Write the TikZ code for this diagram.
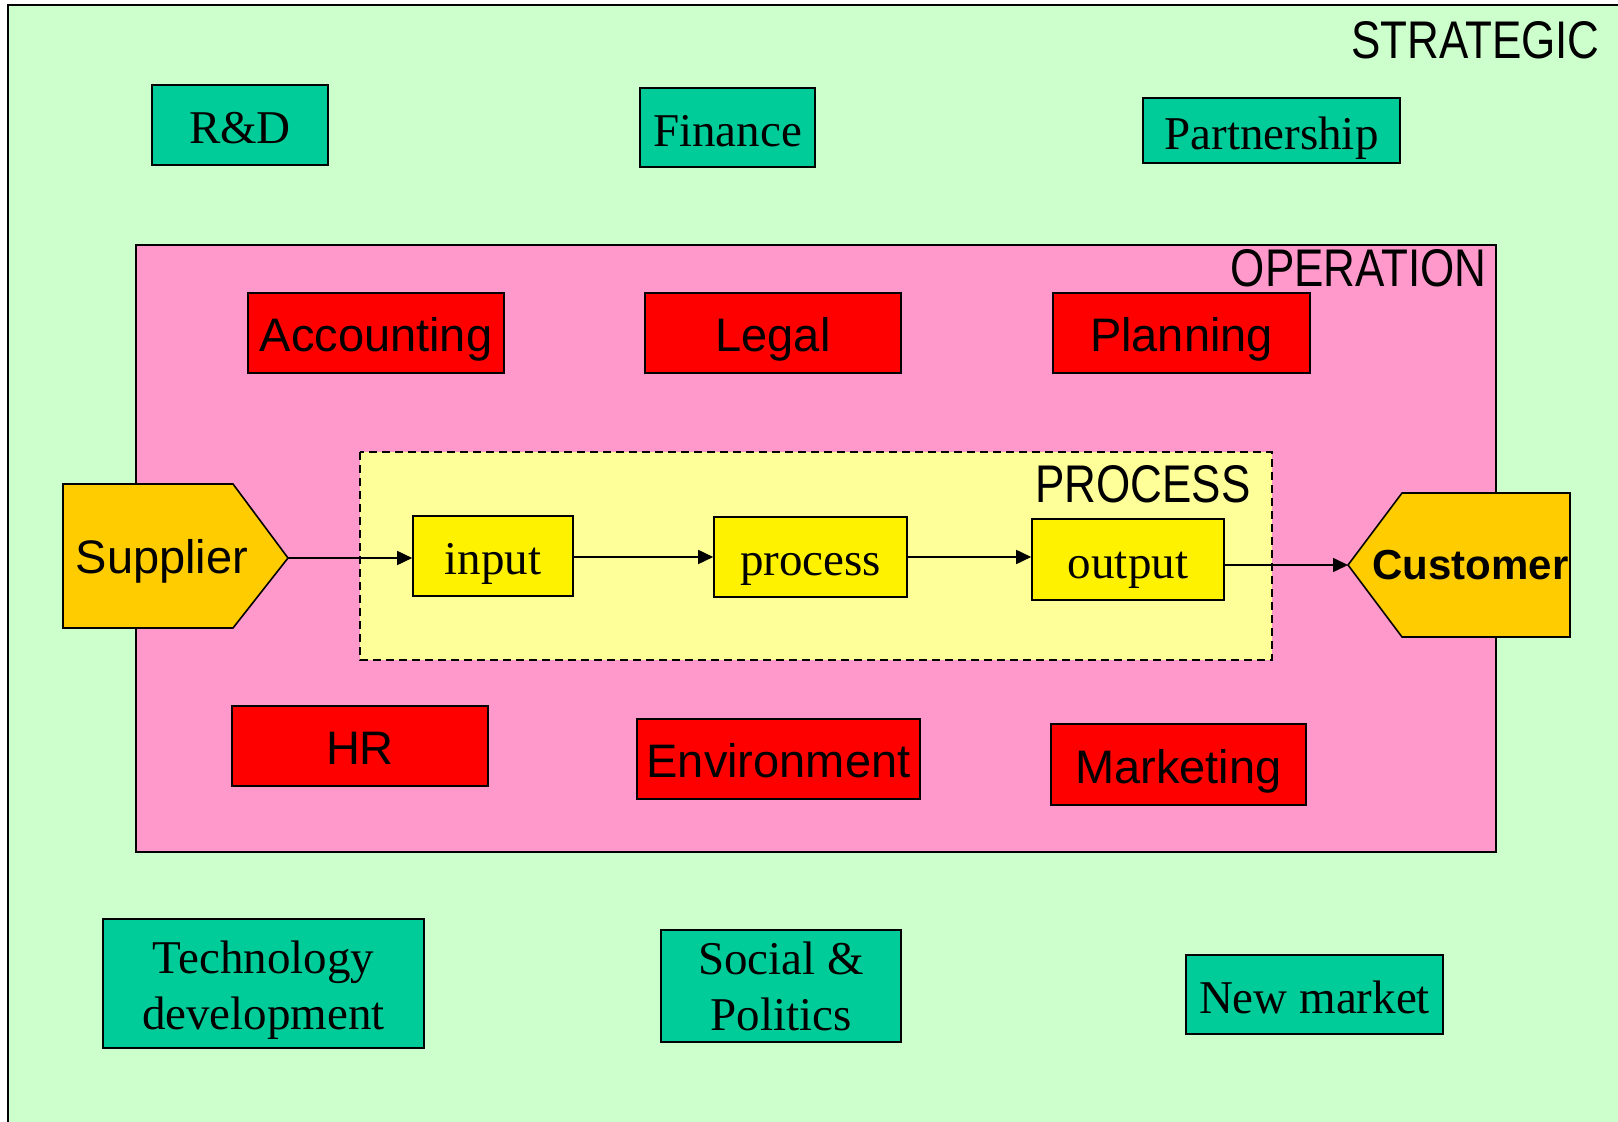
\documentclass[tikz,border=0pt]{standalone}
\usepackage{fontspec}
\setmainfont{Liberation Serif}
\newfontfamily\arialfont{Liberation Sans}
\newfontfamily\narrowfont{Liberation Sans}[FakeStretch=0.83]
\usepackage{tikz}
\usetikzlibrary{arrows.meta}
\definecolor{stratfill}{HTML}{CCFFCC}
\definecolor{opfill}{HTML}{FF99CC}
\definecolor{procfill}{HTML}{FFFF99}
\definecolor{stratbox}{HTML}{00CC99}
\definecolor{sidefill}{HTML}{FFCC00}
\tikzset{
    box/.style={draw, line width=0.8pt, inner sep=0pt, align=center},
    oneline/.style={text height=21.1pt, text depth=2.4pt},
    stratnode/.style={box, fill=stratbox, font=\fontsize{23.5}{28}\selectfont},
    opnode/.style={box, oneline, fill=red, font=\arialfont\fontsize{23.5}{28}\selectfont},
    procnode/.style={box, oneline, fill=yellow, font=\fontsize{23.5}{28}\selectfont},
    zonelabel/.style={anchor=base east, inner sep=0pt, font=\narrowfont\fontsize{26.5}{30}\selectfont},
    flow/.style={line width=0.8pt, -{Triangle[length=7.5pt,width=7pt]}},
}

\begin{document}
\begin{tikzpicture}[x=0.5pt,y=-0.5pt]
    \useasboundingbox (0,0) rectangle (1618,1122);
    \clip (0,0) rectangle (1618,1122);
    % strategic level
    \filldraw[fill=stratfill, line width=1pt] (8,5) rectangle (1650,1150);
    \node[zonelabel] (strat) at (1600,59) {STRATEGIC};
    \node[stratnode, oneline, minimum width=88pt, minimum height=40pt] (rnd) at (240,125) {R\&D};
    \node[stratnode, oneline, minimum width=87.5pt, minimum height=39.5pt] (fin) at (727.5,127.5) {Finance};
    \node[stratnode, oneline, minimum width=128.5pt, minimum height=32.5pt] (part) at (1271.5,130.5) {Partnership};
    \node[stratnode, minimum width=160.5pt, minimum height=64.5pt] (tech) at (263.5,983.5) {};
    \node[font=\fontsize{23.5}{28}\selectfont, align=center, inner sep=0pt, yshift=-3.5pt] (techtext) at (tech) {Technology\\development};
    \node[stratnode, minimum width=120pt, minimum height=56pt] (soc) at (781,986) {Social \&\\Politics};
    \node[stratnode, oneline, minimum width=128.5pt, minimum height=39.5pt] (newm) at (1314.5,994.5) {New market};
    % operation level
    \filldraw[fill=opfill, line width=0.8pt] (136,245) rectangle (1496,852);
    \node[zonelabel] (oper) at (1487,287) {OPERATION};
    \node[opnode, minimum width=128pt, minimum height=40pt] (acc) at (376,333) {Accounting};
    \node[opnode, minimum width=128pt, minimum height=40pt] (leg) at (773,333) {Legal};
    \node[opnode, minimum width=128.5pt, minimum height=40pt] (plan) at (1181.5,333) {Planning};
    \node[opnode, minimum width=128pt, minimum height=40pt] (hr) at (360,746) {HR};
    \node[opnode, minimum width=141.5pt, minimum height=40pt] (env) at (778.5,759) {Environment};
    \node[opnode, minimum width=127.5pt, minimum height=40.5pt] (mkt) at (1178.5,764.5) {Marketing};
    % process level
    \filldraw[fill=procfill, line width=0.75pt, dash pattern=on 4pt off 2.5pt] (360,452) rectangle (1272,660);
    \node[zonelabel] (proc) at (1251,503) {PROCESS};
    \node[procnode, minimum width=80pt, minimum height=40pt] (in) at (493,556) {input};
    \node[procnode, minimum width=96.5pt, minimum height=40pt] (pro) at (810.5,557) {process};
    \node[procnode, minimum width=96pt, minimum height=40.5pt] (out) at (1128,559.5) {output};
    % supplier and customer
    \filldraw[fill=sidefill, line width=0.8pt] (63,484) -- (233,484) -- (288,558) -- (233,628) -- (63,628) -- cycle;
    \coordinate (suptip) at (288,558);
    \node[inner sep=0pt, oneline, font=\arialfont\fontsize{23.5}{28}\selectfont] (sup) at (162,555) {Supplier};
    \filldraw[fill=sidefill, line width=0.8pt] (1570,493) -- (1402,493) -- (1348,565) -- (1402,637) -- (1570,637) -- cycle;
    \coordinate (custip) at (1348,565);
    \node[inner sep=0pt, text height=18.9pt, text depth=2.1pt, anchor=east, font=\arialfont\bfseries\fontsize{21}{25}\selectfont] (cus) at (1569,563) {Customer};
    % flow
    \draw[flow] (suptip) -- (in.west |- suptip);
    \draw[flow] (in.east |- pro) -- (pro.west);
    \draw[flow] (pro.east) -- (out.west |- pro);
    \draw[flow] (out.east |- custip) -- (custip);
\end{tikzpicture}
\end{document}
